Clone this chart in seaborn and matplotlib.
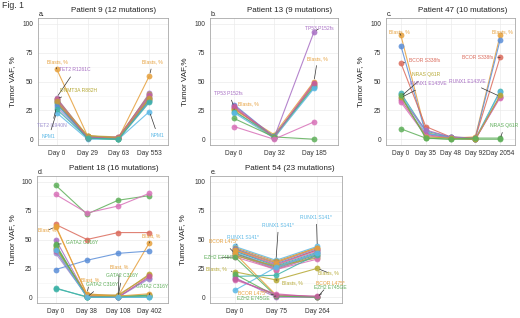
import matplotlib
matplotlib.use("Agg")
import matplotlib.pyplot as plt
import seaborn as sns
import pandas as pd

# ---- data ----
days_a = ["Day 0", "Day 29", "Day 63", "Day 553"]
muts_a = ["Blasts", "TET2 R1261C", "DNMT3A R882H", "TET2 I1940N", "NPM1", "a6", "a7",
          "a8", "a9", "a10", "a11", "a12", "a13"]
vaf_a = [[61, 3, 1, 55], [36, 2, 1, 40], [35, 3, 2, 39], [28, 1, 1, 38], [23, 0, 0, 24],
         [34, 2, 1, 37], [33, 1, 0, 36], [32, 2, 1, 35], [31, 1, 0, 34], [30, 2, 1, 33],
         [35, 1, 2, 38], [33, 3, 1, 36], [26, 1, 0, 32]]

days_b = ["Day 0", "Day 32", "Day 185"]
muts_b = ["Blasts", "TP53 P152fs", "b3", "b4", "b5", "b6", "b7", "b8", "b9", "b10"]
vaf_b = [[26, 4, 50], [28, 1, 93], [30, 2, 47], [27, 2, 48], [25, 1, 46], [24, 3, 45],
         [23, 1, 44], [29, 2, 49], [18, 2, 0], [11, 0, 15]]

days_c = ["Day 0", "Day 35", "Day 48", "Day 92", "Day 2054"]
muts_c = ["Blasts", "c2", "BCOR S338fs", "c4", "c5", "RUNX1 E143VE", "c7", "c8",
          "NRAS Q61R", "c10", "c11"]
vaf_c = [[90, 6, 1, 2, 90], [81, 5, 2, 1, 86], [66, 11, 2, 1, 71], [40, 7, 2, 0, 42],
         [39, 5, 1, 0, 41], [36, 8, 2, 0, 37], [34, 4, 1, 0, 37], [32, 3, 1, 0, 36],
         [9, 1, 0, 0, 0], [37, 2, 1, 0, 38], [38, 1, 0, 1, 1]]

days_d = ["Day 0", "Day 38", "Day 108", "Day 402"]
muts_d = ["d1", "d2", "d3", "Blasts", "d5", "GATA2 C316Y", "d7", "d8", "d9", "d10",
          "d11", "d12", "d13", "d14", "d15", "d16", "d17"]
vaf_d = [[97, 72, 84, 88], [89, 73, 79, 90], [63, 50, 56, 56], [61, 3, 1, 47],
         [50, 1, 0, 17], [46, 0, 0, 2], [44, 1, 1, 1], [43, 2, 1, 20], [38, 1, 0, 16],
         [24, 32, 38, 40], [8, 0, 0, 2], [7.5, 0.5, 0, 0], [42, 2, 2, 19],
         [40, 1, 0, 18], [45, 0, 1, 1], [62, 2, 1, 3], [41, 0, 0, 0]]

days_e = ["Day 0", "Day 75", "Day 264"]
muts_e = ["RUNX1 S141*", "e2", "e3", "e4", "e5", "e6", "e7", "e8", "e9", "e10", "e11",
          "e12", "e13", "e14", "e15", "BCOR L475*", "EZH2 E745GE", "Blasts", "e19",
          "e20", "e21", "e22", "e23", "e24"]
vaf_e = [[44, 32, 44], [43, 31, 43], [42, 30, 42], [42, 29, 41], [41, 28, 41],
         [40, 28, 40], [40, 27, 39], [39, 26, 38], [38, 26, 38], [38, 25, 37],
         [37, 24, 36], [37, 25, 35], [36, 27, 34], [35, 24, 33], [41, 30, 43],
         [38, 2, 0], [35, 1, 0], [22, 15, 25], [18, 19, 37], [6, 26, 38],
         [15, 3, 0], [17, 0, 0], [20, 1, 0], [16, 2, 1]]

# ---- colours ----
OR, PU, OL, LB, TE = "#E6A03C", "#A86FC4", "#B5A833", "#5BB8E6", "#3FB3A8"
PK, RD, GR, BL, MG = "#D871B8", "#DB6B5C", "#5FAF5A", "#5B8ED8", "#C55C9C"
LV, BR = "#9C8FD0", "#C49A3E"

cols_a = [OR, PU, OL, LV, LB, PK, TE, RD, GR, BL, MG, BR, TE]
cols_b = [OR, PU, BL, RD, OL, TE, LB, MG, GR, PK]
cols_c = [OR, BL, RD, TE, LB, PU, MG, PK, GR, OL, GR]
cols_d = [GR, PK, RD, OR, PU, GR, GR, OL, LV, BL, TE, TE, BR, MG, GR, OR, LB]
cols_e = [LB, BR, PU, BL, RD, PK, TE, LB, MG, GR, RD, LV, OL, PK, OR,
          OR, GR, OL, TE, LB, PK, PU, GR, MG]

# labels: (text, series, day index, text x, text y)
lab_a = [("Blasts, %", "Blasts", 0, 0.01, 67), ("TET2 R1261C", "TET2 R1261C", 0, 0.6, 60),
         ("DNMT3A R882H", "DNMT3A R882H", 0, 0.72, 42),
         ("TET2 I1940N", "TET2 I1940N", 0, -0.15, 12), ("NPM1", "NPM1", 0, -0.25, 2),
         ("Blasts, %", "Blasts", 3, 3.11, 67), ("NPM1", "NPM1", 3, 3.27, 3)]
lab_b = [("TP53 P152fs", "TP53 P152fs", 2, 2.13, 96), ("Blasts, %", "Blasts", 2, 2.09, 70),
         ("TP53 P152fs", "TP53 P152fs", 0, -0.13, 40), ("Blasts, %", "Blasts", 0, 0.35, 31)]
lab_c = [("Blasts, %", "Blasts", 0, -0.08, 93), ("Blasts, %", "Blasts", 4, 4.1, 93),
         ("BCOR S338fs", "BCOR S338fs", 0, 0.97, 68), ("BCOR S338fs", "BCOR S338fs", 4, 3.09, 71),
         ("NRAS Q61R", "c10", 0, 1.01, 56), ("RUNX1 E143VE", "RUNX1 E143VE", 0, 1.09, 48),
         ("RUNX1 E143VE", "RUNX1 E143VE", 4, 2.69, 50), ("NRAS Q61R", "NRAS Q61R", 4, 4.18, 12)]
lab_d = [("Blast, %", "Blasts", 0, -0.26, 58), ("GATA2 C316Y", "GATA2 C316Y", 0, 0.84, 47),
         ("Blast, %", "Blasts", 1, 1.1, 15), ("GATA2 C316Y", "GATA2 C316Y", 1, 1.47, 10.6),
         ("Blast, %", "Blasts", 2, 2.04, 26), ("GATA2 C316Y", "GATA2 C316Y", 2, 2.12, 18.4),
         ("Blast, %", "Blasts", 3, 3.07, 53), ("GATA2 C316Y", "GATA2 C316Y", 3, 3.1, 9.7)]
lab_e = [("RUNX1 S141*", "RUNX1 S141*", 0, 0.2, 52), ("BCOR L475*", "BCOR L475*", 0, -0.27, 48),
         ("EZH2 E745GE", "EZH2 E745GE", 0, -0.36, 34), ("Blasts, %", "Blasts", 0, -0.45, 25),
         ("RUNX1 S141*", "RUNX1 S141*", 1, 1.06, 62.5), ("RUNX1 S141*", "RUNX1 S141*", 2, 1.98, 69.4),
         ("Blasts, %", "Blasts", 1, 1.39, 12.3), ("Blasts, %", "Blasts", 2, 2.28, 21),
         ("BCOR L475*", "BCOR L475*", 1, 0.42, 3.6), ("EZH2 E745GE", "EZH2 E745GE", 1, 0.45, -0.7),
         ("BCOR L475*", "BCOR L475*", 2, 2.31, 12.3), ("EZH2 E745GE", "EZH2 E745GE", 2, 2.31, 8.8)]

sns.set_style("whitegrid")
plt.rcParams['font.family'] = ['Liberation Sans', 'DejaVu Sans']

W, H = 520, 318
fig = plt.figure(figsize=(5.2, 3.18), dpi=100)


def panel(box, days, muts, vafs, cols, labels, title, letter, ylab, ylab_x, title_x):
    x0, y0, x1, y1 = box
    ax = fig.add_axes([x0 / W, 1 - y1 / H, (x1 - x0) / W, (y1 - y0) / H])
    rows = []
    for m, vals in zip(muts, vafs):
        for i, v in enumerate(vals):
            rows.append({"pos": i, "vaf": v, "mut": m})
    df = pd.DataFrame(rows)
    sns.lineplot(data=df, x="pos", y="vaf", hue="mut", hue_order=muts,
                 palette=dict(zip(muts, cols)), marker="o", markersize=4.2,
                 markeredgewidth=0, linewidth=0.8, alpha=0.85, legend=False,
                 estimator=None, sort=False, ax=ax)
    ax.set_xlim(-0.6, len(days) - 0.4)
    ax.set_ylim(-5, 105)
    ax.set_xticks(range(len(days)))
    ax.set_xticklabels(days)
    ax.set_yticks([0, 25, 50, 75, 100])
    ax.set_yticks([12.5, 37.5, 62.5, 87.5], minor=True)
    ax.set_xlabel("")
    ax.set_ylabel("")
    ax.grid(True, which="major", color="#EBEBEB", lw=0.5)
    ax.grid(True, which="minor", axis="y", color="#F4F4F4", lw=0.4)
    for s in ax.spines.values():
        s.set_color("#A8A8A8")
        s.set_linewidth(0.6)
    ax.tick_params(which="major", length=2, width=0.5, color="#333333",
                   labelsize=4.8, labelcolor="#333333", pad=1.5)
    ax.tick_params(which="minor", length=0)
    lookup = dict(zip(muts, vafs))
    colmap = dict(zip(muts, cols))
    for text, m, di, tx, ty in labels:
        ax.annotate(text, xy=(di, lookup[m][di]), xytext=(tx, ty),
                    fontsize=3.6, color=colmap[m], ha="center", va="center",
                    arrowprops=dict(arrowstyle="-", color="#333333", lw=0.5,
                                    shrinkA=1, shrinkB=2))
    fig.text(title_x / W, 1 - (y0 - 7) / H, title, fontsize=5.8, ha="center",
             va="center", color="#222222")
    fig.text((x0 + 1) / W, 1 - (y0 - 3) / H, letter, fontsize=5, ha="left",
             va="center", color="#222222")
    fig.text(ylab_x / W, 1 - (y0 + y1) / 2 / H, ylab, fontsize=5.8, rotation=90,
             ha="center", va="center", color="#222222")
    return ax


panel((38, 18, 168, 145), days_a, muts_a, vaf_a, cols_a, lab_a,
      "Patient 9 (12 mutations)", "a.", "Tumor VAF, %", 13, 114)
panel((210, 18, 338, 145), days_b, muts_b, vaf_b, cols_b, lab_b,
      "Patient 13 (9 mutations)", "b.", "Tumor VAF,%", 185, 290)
panel((386, 18, 515, 145), days_c, muts_c, vaf_c, cols_c, lab_c,
      "Patient 47 (10 mutations)", "c.", "Tumor VAF, %", 361, 463)
panel((37, 176, 168, 303), days_d, muts_d, vaf_d, cols_d, lab_d,
      "Patient 18 (16 mutations)", "d.", "Tumor VAF, %", 13, 114)
panel((210, 176, 342, 303), days_e, muts_e, vaf_e, cols_e, lab_e,
      "Patient 54 (23 mutations)", "e.", "Tumor VAF, %", 183, 290)

fig.text(2 / W, 1 - 6 / H, "Fig. 1", fontsize=6.3, ha="left", va="center", color="#333333")

fig.savefig("out.png", dpi=100)
